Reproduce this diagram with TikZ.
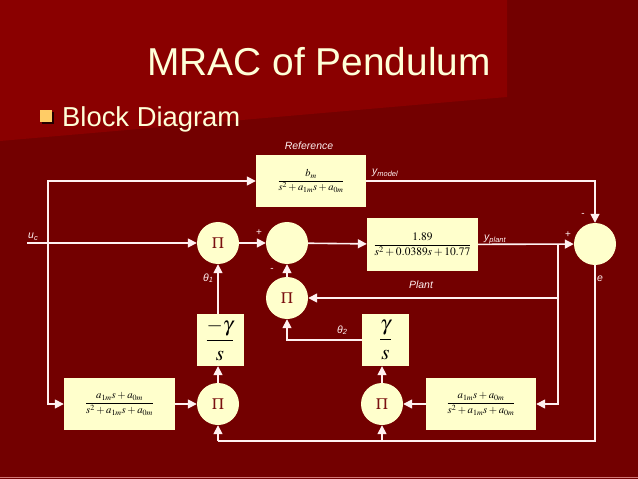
\documentclass[tikz,border=0pt]{standalone}
\usepackage{amsmath}
\usepackage{mathptmx}
\usepackage{fontspec}
\setmainfont{Liberation Serif}
\newfontfamily\arialfont{Liberation Sans}
\usetikzlibrary{arrows.meta}
\definecolor{bgdark}{HTML}{730000}
\definecolor{bgbright}{HTML}{8A0000}
\definecolor{cream}{HTML}{FFFFCC}
\definecolor{linec}{HTML}{FFF0F0}
\definecolor{pic}{HTML}{7A1010}
\definecolor{bullet}{HTML}{FFCC66}
\definecolor{titlec}{HTML}{FFFFD8}
\tikzset{
  ln/.style={draw=linec, line width=1.6bp},
  arr/.style={ln, -{Triangle[length=9bp,width=9bp]}},
  blk/.style={rectangle, fill=cream, draw=none, inner sep=0pt},
  circ/.style={circle, fill=cream, draw=none, minimum size=42bp, inner sep=0pt, text=pic, font=\fontsize{16}{16}\selectfont},
  lbl/.style={text=linec, inner sep=0pt, font=\arialfont\itshape\fontsize{10.5}{12}\selectfont},
  sgn/.style={text=linec, inner sep=0pt, font=\arialfont\fontsize{10}{12}\selectfont},
}
\begin{document}
\begin{tikzpicture}[x=1bp,y=-1bp]
\useasboundingbox (0,0) rectangle (638,479);
\fill[bgdark] (0,0) rectangle (638,479);
\fill[bgbright] (0,0) -- (507,0) -- (507,97) -- (0,141) -- cycle;
\draw[draw={rgb,255:red,210;green,120;blue,120}, line width=1bp] (0,477.5) -- (638,477.5);
% title
\node[anchor=base, text=titlec, inner sep=0pt, font=\arialfont\fontsize{39}{41}\selectfont] (title) at (319,75.5) {MRAC of Pendulum};
\fill[black!70!bgdark] (42,112) rectangle (54,124);
\fill[bullet] (40,110) rectangle (52,122);
\node[anchor=base west, text=titlec, inner sep=0pt, font=\arialfont\fontsize{27.5}{30}\selectfont] (sub) at (62,127) {Block Diagram};
% blocks
\node[blk, minimum width=110bp, minimum height=52bp] (ref) at (311,181)
  {\fontsize{10.5}{12}\selectfont$\dfrac{b_m}{s^2+a_{1m}s+a_{0m}}$};
\node[blk, minimum width=111bp, minimum height=53bp] (plant) at (422.5,244.5)
  {\fontsize{11.5}{14}\selectfont$\dfrac{1.89}{s^2+0.0389s+10.77}$};
\node[blk, minimum width=47bp, minimum height=52bp] (ng) at (220,340)
  {\fontsize{21}{22}\selectfont$\dfrac{-\gamma}{s}$};
\node[blk, minimum width=47bp, minimum height=52bp] (g) at (385.5,340)
  {\fontsize{21}{22}\selectfont$\dfrac{\gamma}{s}$};
\node[blk, minimum width=111bp, minimum height=52bp] (fl) at (119.5,404)
  {\fontsize{10.8}{12}\selectfont$\dfrac{a_{1m}s+a_{0m}}{s^2+a_{1m}s+a_{0m}}$};
\node[blk, minimum width=110bp, minimum height=52bp] (fr) at (481,404)
  {\fontsize{10.8}{12}\selectfont$\dfrac{a_{1m}s+a_{0m}}{s^2+a_{1m}s+a_{0m}}$};
% circles
\node[circ] (p1) at (218,243) {$\Pi$};
\node[circ] (s1) at (287,243) {};
\node[circ] (p3) at (287,298) {$\Pi$};
\node[circ] (p4) at (218,404) {$\Pi$};
\node[circ] (p5) at (382,404) {$\Pi$};
\node[circ] (s2) at (595,244) {};
% coordinates
\coordinate (uc) at (27,243);
\coordinate (b1) at (48,243);
\coordinate (b2) at (558,244);
\coordinate (bot) at (595,441);
% connectors
\draw[arr] (uc) -- (p1);
\draw[arr] (b1) |- (ref.west);
\draw[arr] (b1) |- (fl.west);
\draw[arr] (p1) -- (s1);
\draw[arr] (s1) -- (plant);
\draw[arr] (plant) -- (s2);
\draw[arr] (b2) |- (p3.east);
\draw[arr] (b2) |- (fr.east);
\draw[arr] (ref.east) -| (s2.north);
\draw[ln] (s2.south) -- (bot) -- (bot -| p4);
\draw[arr] (bot -| p4) -- (p4.south);
\draw[arr] (bot -| p5) -- (p5.south);
\draw[arr] (fl) -- (p4);
\draw[arr] (p4) -- (p4 |- ng.south);
\draw[arr] (ng.north -| p1) -- (p1.south);
\draw[arr] (fr) -- (p5);
\draw[arr] (p5) -- (p5 |- g.south);
\draw[arr] (g.west) -| (p3.south);
\draw[arr] (p3) -- (s1);
% labels
\node[lbl] (lref) at (309,146) {Reference};
\node[lbl] (lplant) at (421,285) {Plant};
\node[lbl, anchor=base west] (lym) at (372,175) {y\textsubscript{\fontsize{7.5}{8}\selectfont model}};
\node[lbl, anchor=base west] (lyp) at (484,241) {y\textsubscript{\fontsize{7.5}{8}\selectfont plant}};
\node[lbl, anchor=base west] (luc) at (28,239) {u\textsubscript{\fontsize{7.5}{8}\selectfont c}};
\node[lbl, anchor=base west] (lt1) at (203,281) {θ\textsubscript{\fontsize{7.5}{8}\selectfont 1}};
\node[lbl, anchor=base west] (lt2) at (337,333) {θ\textsubscript{\fontsize{7.5}{8}\selectfont 2}};
\node[lbl] (le) at (600,279) {e};
\node[sgn] (m1) at (583,215) {-};
\node[sgn] (pl1) at (568,235) {+};
\node[sgn] (pl2) at (259,233) {+};
\node[sgn] (m2) at (272,270) {-};
\end{tikzpicture}
\end{document}
